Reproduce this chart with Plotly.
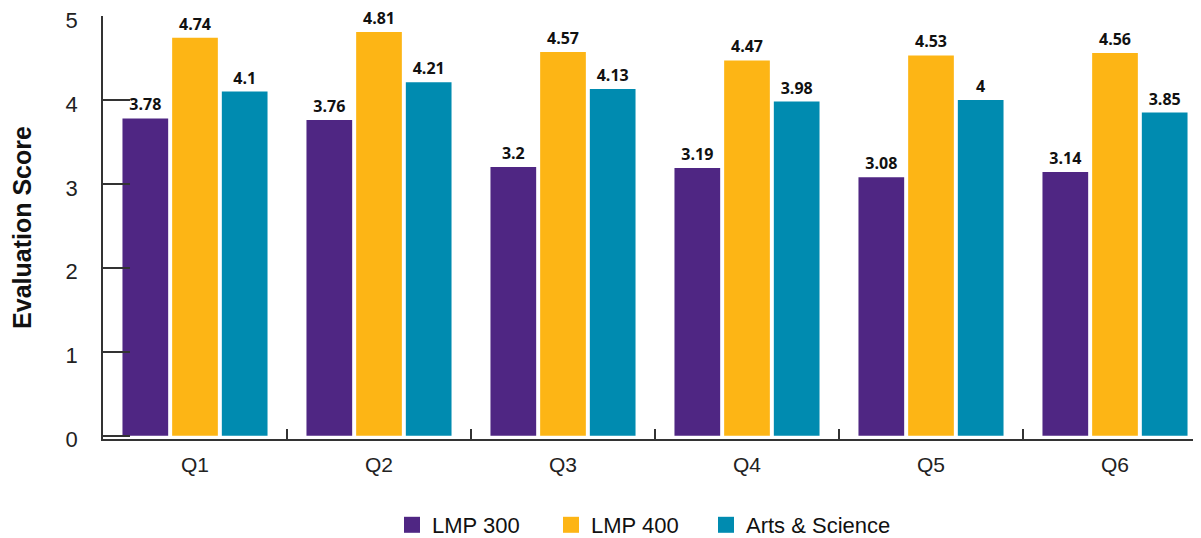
import plotly.graph_objects as go

categories = ["Q1", "Q2", "Q3", "Q4", "Q5", "Q6"]
lmp300 = [3.78, 3.76, 3.2, 3.19, 3.08, 3.14]
lmp400 = [4.74, 4.81, 4.57, 4.47, 4.53, 4.56]
arts_science = [4.1, 4.21, 4.13, 3.98, 4.0, 3.85]
series_names = ["LMP 300", "LMP 400", "Arts & Science"]
colors = ["#4F2683", "#FDB515", "#008BB0"]
y_ticks = [0, 1, 2, 3, 4, 5]

# the page body adds an 8px offset; figure sized so the plot reaches the window edges
W, H = 1193, 530
L, R, T, B = 95, 0, 8, 99
pw = W - L - R
ph = H - T - B
legend_center_y = 517  # figure px

fig = go.Figure()
for name, vals, col in zip(series_names, [lmp300, lmp400, arts_science], colors):
    fig.add_trace(go.Bar(
        x=categories, y=vals, name=name, marker=dict(color=col, line=dict(width=0)),
        text=[f"{v:g}" for v in vals], textposition="outside",
        textfont=dict(family="Open Sans", size=16, color="#111111", weight="bold"),
        cliponaxis=False, showlegend=False,
    ))

legend_left_px = [384, 543, 698]
legend_ids = ["legend", "legend2", "legend3"]
for name, col, lid in zip(series_names, colors, legend_ids):
    fig.add_trace(go.Scatter(
        x=[None], y=[None], mode="markers", name=name, legend=lid,
        marker=dict(symbol="square", size=17, color=col),
    ))

axis_color = "#333333"
legend_common = dict(orientation="h", yanchor="middle", y=-(legend_center_y - (T + ph)) / ph,
                     xanchor="left",
                     font=dict(family="Liberation Sans", size=22, color="#111111"),
                     itemwidth=30, bgcolor="rgba(0,0,0,0)")
layout_legends = {}
for lid, px in zip(legend_ids, legend_left_px):
    layout_legends[lid] = dict(legend_common, x=(px - L) / pw)

fig.update_layout(
    width=W, height=H,
    margin=dict(l=L, r=R, t=T, b=B, autoexpand=False),
    paper_bgcolor="white", plot_bgcolor="white",
    barmode="group", bargap=0.19, bargroupgap=0.08,
    font=dict(family="Liberation Sans", size=21, color="#222222"),
    **layout_legends,
    xaxis=dict(
        range=[-0.5, -0.5 + pw / 184.0], showline=True, linecolor=axis_color, linewidth=1.5,
        ticks="inside", tickson="boundaries", ticklen=10, tickcolor=axis_color, tickwidth=1.5,
        showgrid=False, zeroline=False, ticklabelstandoff=6, automargin=False,
        tickfont=dict(family="Liberation Sans", size=21, color="#222222"),
    ),
    yaxis=dict(
        range=[-0.04, 5], tickvals=y_ticks, showline=True, linecolor=axis_color, linewidth=1.5,
        ticks="inside", ticklen=27, tickcolor=axis_color, tickwidth=1.5,
        showgrid=False, zeroline=False, ticklabelstandoff=19, ticklabelshift=4,
        ticklabeloverflow="allow", automargin=False,
        tickfont=dict(family="Liberation Sans", size=22, color="#222222"),
        title=dict(text="<b>Evaluation Score</b>", standoff=38,
                   font=dict(family="Liberation Sans", size=25, color="#111111")),
    ),
)

fig.write_html("out.html")
